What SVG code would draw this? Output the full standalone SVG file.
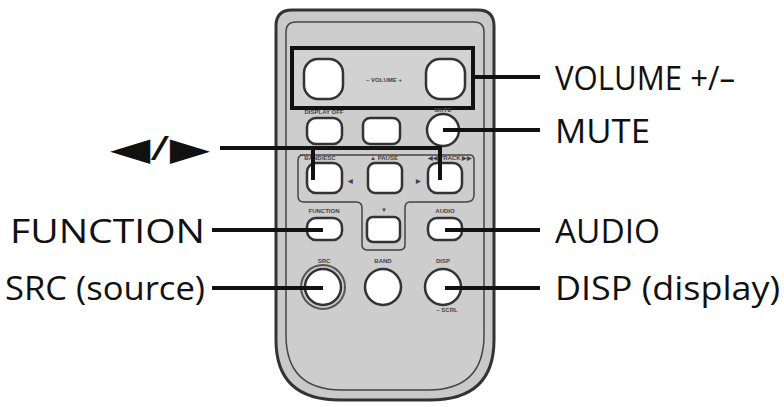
<svg xmlns="http://www.w3.org/2000/svg" width="784" height="407" viewBox="0 0 784 407">
<style>
.lbl{font-family:"Open Sans","DejaVu Sans",sans-serif;font-size:32px;fill:#111}
.sm{font-family:"Liberation Sans",sans-serif;font-size:6px;font-weight:bold;fill:#444}
.btn{fill:#fff;stroke:#333;stroke-width:2.5}
.ld{stroke:#111;stroke-width:4;fill:none}
</style>
<rect width="784" height="407" fill="#fff"/>
<g id="remote">
<path d="M292 10 H478 Q494 10 494 26 V340 Q494 400 430 400 H340 Q276 400 276 340 V26 Q276 10 292 10 Z" fill="#c9c9c9" stroke="#333" stroke-width="3"/>
<path d="M296 22 H474 Q484 22 484 32 V335 Q484 390 428 390 H342 Q286 390 286 335 V32 Q286 22 296 22 Z" fill="#cdcdcd" stroke="#444" stroke-width="1.5"/>
<rect x="292" y="48" width="181" height="60" fill="#d2d2d2" stroke="#111" stroke-width="4"/>
<rect x="304" y="59" width="39" height="40" rx="14" class="btn"/>
<rect x="426" y="59" width="39" height="40" rx="14" class="btn"/>
<text x="384" y="82" class="sm" text-anchor="middle" font-size="8">– VOLUME +</text>
<text x="324" y="114" class="sm" text-anchor="middle">DISPLAY OFF</text>
<text x="443" y="112" class="sm" text-anchor="middle">MUTE</text>
<rect x="307" y="118" width="35" height="26" rx="9" class="btn"/>
<rect x="363" y="118" width="37" height="26" rx="7" class="btn"/>
<circle cx="443" cy="130" r="16" class="btn"/>
<path d="M300 155 H470 Q474 155 474 160 V195 Q474 202 466 202 H410 Q405 202 405 208 V245 Q405 250 399 250 H368 Q362 250 362 245 V208 Q362 202 356 202 H304 Q298 202 298 196 V160 Q298 155 304 155 Z" fill="none" stroke="#444" stroke-width="1.5"/>
<text x="320" y="160" class="sm" text-anchor="middle">BAND/ESC</text>
<text x="384" y="160" class="sm" text-anchor="middle">▲ PAUSE</text>
<text x="450" y="160" class="sm" text-anchor="middle">◀◀ TRACK ▶▶</text>
<rect x="307" y="163" width="35" height="30" rx="9" class="btn"/>
<rect x="368" y="163" width="34" height="30" rx="7" class="btn"/>
<rect x="428" y="163" width="34" height="30" rx="9" class="btn"/>
<text x="350" y="183" class="sm" font-size="10" text-anchor="middle">◀</text>
<text x="418" y="183" class="sm" font-size="10" text-anchor="middle">▶</text>
<text x="324" y="213" class="sm" text-anchor="middle">FUNCTION</text>
<text x="384" y="212" class="sm" font-size="8" text-anchor="middle">▼</text>
<text x="445" y="213" class="sm" text-anchor="middle">AUDIO</text>
<rect x="307" y="218" width="35" height="22" rx="9" class="btn"/>
<rect x="367" y="217" width="33" height="25" rx="6" class="btn"/>
<rect x="428" y="218" width="34" height="22" rx="9" class="btn"/>
<text x="324" y="263" class="sm" text-anchor="middle">SRC</text>
<text x="383" y="263" class="sm" text-anchor="middle">BAND</text>
<text x="443" y="263" class="sm" text-anchor="middle">DISP</text>
<circle cx="323" cy="287" r="22" fill="none" stroke="#555" stroke-width="2"/>
<circle cx="323" cy="287" r="18" class="btn"/>
<circle cx="383" cy="287" r="18" class="btn"/>
<circle cx="443" cy="287" r="18" class="btn"/>
<text x="447" y="312" class="sm" text-anchor="middle">– SCRL</text>
</g>
<g id="connectors">
<path class="ld" d="M473 77 H540"/>
<path class="ld" d="M443 130 H540"/>
<path class="ld" d="M220 148 H440 V180 M313 148 V180"/>
<path class="ld" d="M212 230 H323"/>
<path class="ld" d="M445 230 H540"/>
<path class="ld" d="M212 288 H323"/>
<path class="ld" d="M445 288 H540"/>
</g>
<g id="labels">
<text x="555" y="90" class="lbl" textLength="180" lengthAdjust="spacingAndGlyphs">VOLUME +/–</text>
<text x="555" y="143" class="lbl" textLength="95" lengthAdjust="spacingAndGlyphs">MUTE</text>
<text x="110" y="160" class="lbl" textLength="100" lengthAdjust="spacingAndGlyphs">◀/▶</text>
<text x="10" y="243" class="lbl" textLength="195" lengthAdjust="spacingAndGlyphs">FUNCTION</text>
<text x="555" y="243" class="lbl" textLength="105" lengthAdjust="spacingAndGlyphs">AUDIO</text>
<text x="5" y="300" class="lbl" textLength="200" lengthAdjust="spacingAndGlyphs">SRC (source)</text>
<text x="555" y="300" class="lbl" textLength="225" lengthAdjust="spacingAndGlyphs">DISP (display)</text>
</g>
</svg>
